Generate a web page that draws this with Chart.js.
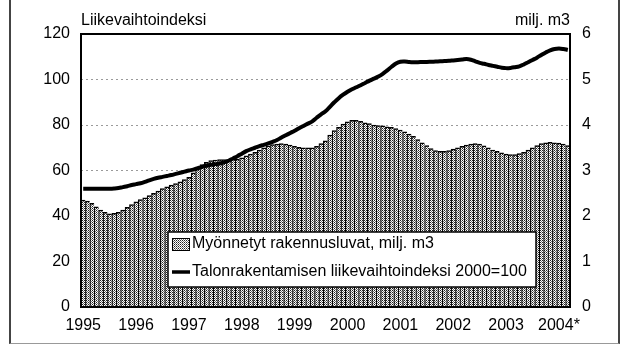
<!DOCTYPE html>
<html>
<head>
<meta charset="utf-8">
<script src="https://cdn.jsdelivr.net/npm/chart.js@4/dist/chart.umd.min.js"></script>
<style>
  html, body { margin: 0; padding: 0; background: #fff; overflow: hidden; }
  #wrap { position: relative; width: 626px; height: 345px; }
  #frame {
    position: absolute; left: 9px; top: -4px; width: 611px; height: 348px;
    box-sizing: border-box;
    border-left: 2px solid #444; border-right: 2px solid #444;
    border-bottom: 1px solid #999; border-top: 1px solid #444;
    pointer-events: none;
  }
  canvas { position: absolute; left: 0; top: 0; }
</style>
</head>
<body>
<div id="wrap">
  <canvas id="c" width="626" height="345"></canvas>
  <div id="frame"></div>
</div>
<script>
// Year labels shown under the January of each year
const years = ['1995', '1996', '1997', '1998', '1999', '2000', '2001', '2002', '2003', '2004*'];

// Granted building permits, million m3 (monthly, Jan 1995 onwards)
const permits = [
  2.35, 2.33, 2.28, 2.20, 2.13, 2.08, 2.05, 2.06, 2.08, 2.13, 2.19, 2.25,
  2.31, 2.36, 2.40, 2.45, 2.50, 2.55, 2.60, 2.64, 2.68, 2.71, 2.75, 2.80,
  2.85, 2.95, 3.05, 3.13, 3.18, 3.22, 3.23, 3.24, 3.24, 3.24, 3.25, 3.25,
  3.28, 3.32, 3.36, 3.40, 3.45, 3.50, 3.54, 3.57, 3.58, 3.59, 3.58, 3.56,
  3.53, 3.51, 3.50, 3.50, 3.50, 3.53, 3.59, 3.65, 3.78, 3.88, 3.95, 4.02,
  4.07, 4.10, 4.10, 4.08, 4.05, 4.03, 4.00, 3.99, 3.98, 3.96, 3.95, 3.92,
  3.89, 3.85, 3.80, 3.75, 3.68, 3.61, 3.55, 3.48, 3.44, 3.42, 3.42, 3.44,
  3.47, 3.50, 3.53, 3.56, 3.58, 3.59, 3.58, 3.54, 3.50, 3.45, 3.42, 3.39,
  3.36, 3.35, 3.35, 3.37, 3.40, 3.45, 3.50, 3.55, 3.59, 3.61, 3.62, 3.61,
  3.60, 3.58, 3.55
];

// Turnover index of house building, 2000 = 100 (monthly)
const turnover = [
  52.0, 52.0, 52.0, 52.0, 52.0, 52.0, 52.0, 52.1, 52.3, 52.7, 53.1, 53.6,
  54.0, 54.4, 55.0, 55.7, 56.3, 56.8, 57.2, 57.6, 58.0, 58.5, 59.0, 59.5,
  60.0, 60.4, 61.0, 61.6, 62.1, 62.5, 62.8, 63.1, 63.6, 64.3, 65.3, 66.3,
  67.4, 68.5, 69.3, 70.0, 70.7, 71.3, 71.9, 72.6, 73.4, 74.5, 75.5, 76.5,
  77.5, 78.6, 79.6, 80.6, 81.6, 83.2, 84.7, 86.0, 88.0, 90.0, 91.8, 93.3,
  94.6, 95.7, 96.6, 97.5, 98.5, 99.5, 100.4, 101.3, 102.5, 104.0, 105.6, 107.0,
  107.8, 107.9, 107.7, 107.6, 107.6, 107.7, 107.7, 107.8, 107.9, 108.0, 108.1, 108.2,
  108.4, 108.6, 108.8, 109.0, 108.7, 108.0, 107.3, 106.9, 106.4, 106.0, 105.6, 105.2,
  105.0, 105.1, 105.4, 105.8, 106.6, 107.6, 108.6, 109.6, 110.8, 111.9, 112.8, 113.4,
  113.6, 113.4, 113.0
];

const legendLabels = ['Myönnetyt rakennusluvat, milj. m3', 'Talonrakentamisen liikevaihtoindeksi 2000=100'];
const leftTitle = 'Liikevaihtoindeksi';
const rightTitle = 'milj. m3';

const months = permits.map((_, i) => years[Math.floor(i / 12)].replace('*', '') + '-' + String(i % 12 + 1).padStart(2, '0'));

const FONT = "'Liberation Sans', Arial, Helvetica, sans-serif";
const canvas = document.getElementById('c');
const ctx0 = canvas.getContext('2d');

// Stippled fill used for the permit columns
function stipple(ctx) {
  const p = document.createElement('canvas');
  p.width = 2; p.height = 2;
  const g = p.getContext('2d');
  g.fillStyle = '#fff'; g.fillRect(0, 0, 2, 2);
  g.fillStyle = '#222'; g.fillRect(0, 0, 1, 1);
  g.fillStyle = '#777'; g.fillRect(1, 1, 1, 1);
  return ctx.createPattern(p, 'repeat');
}
const fill = stipple(ctx0);

// Frame around the plot, the two axis headings and the legend box inside the plot
const decorations = {
  id: 'decorations',
  afterDatasetsDraw(chart) {
    const { ctx, chartArea: a } = chart;
    ctx.save();
    ctx.strokeStyle = '#000';
    ctx.lineWidth = 2;
    ctx.strokeRect(a.left, a.top, a.right - a.left, a.bottom - a.top);

    ctx.fillStyle = '#000';
    ctx.font = '16px ' + FONT;
    ctx.textBaseline = 'alphabetic';
    ctx.textAlign = 'left';
    ctx.fillText(leftTitle, a.left, a.top - 9);
    ctx.textAlign = 'right';
    ctx.fillText(rightTitle, a.right, a.top - 9);

    // legend
    const bx = a.left + 87, by = a.top + 198, bw = 368, bh = 55;
    ctx.fillStyle = '#fff';
    ctx.fillRect(bx, by, bw, bh);
    ctx.lineWidth = 1.5;
    ctx.strokeStyle = '#000';
    ctx.strokeRect(bx, by, bw, bh);

    const sx = bx + 4, sw = 18;
    const r1 = by + 12, r2 = by + 40;
    ctx.fillStyle = fill;
    ctx.fillRect(sx, r1 - 6, sw, 13);
    ctx.lineWidth = 1;
    ctx.strokeRect(sx + 0.5, r1 - 5.5, sw - 1, 12);

    ctx.beginPath();
    ctx.lineWidth = 3.5;
    ctx.moveTo(sx, r2);
    ctx.lineTo(sx + sw, r2);
    ctx.stroke();

    ctx.fillStyle = '#000';
    ctx.textAlign = 'left';
    ctx.textBaseline = 'middle';
    ctx.fillText(legendLabels[0], sx + sw + 2, r1);
    ctx.fillText(legendLabels[1], sx + sw + 2, r2);
    ctx.restore();
  }
};

const tickFont = { family: FONT, size: 16 };

new Chart(canvas, {
  data: {
    labels: months,
    datasets: [
      {
        type: 'line',
        label: legendLabels[1],
        data: turnover,
        yAxisID: 'yL',
        borderColor: '#000',
        borderWidth: 4,
        pointRadius: 0,
        tension: 0.4,
        order: 1
      },
      {
        type: 'bar',
        label: legendLabels[0],
        data: permits,
        yAxisID: 'yR',
        backgroundColor: fill,
        borderColor: '#000',
        borderWidth: { top: 1.5, left: 1.2, right: 0, bottom: 0 },
        borderSkipped: false,
        categoryPercentage: 1,
        barPercentage: 1,
        order: 2
      }
    ]
  },
  options: {
    responsive: false,
    animation: false,
    layout: { padding: { top: 34, left: 0, right: 0, bottom: 0 } },
    plugins: { legend: { display: false }, tooltip: { enabled: false }, title: { display: false } },
    scales: {
      x: {
        grid: { display: false, drawTicks: false },
        border: { display: false },
        ticks: {
          autoSkip: false, maxRotation: 0, minRotation: 0, padding: 9,
          font: tickFont, color: '#000',
          callback: (v, i) => (i % 12 === 0 ? years[i / 12] : '')
        },
        afterFit(s) { s.height = 38; }
      },
      yL: {
        position: 'left',
        min: 0, max: 120,
        ticks: { stepSize: 20, padding: 11, font: tickFont, color: '#000' },
        grid: { color: '#9a9a9a', lineWidth: 1, drawTicks: false },
        border: { display: false, dash: [2, 3] },
        afterFit(s) { s.width = 81; }
      },
      yR: {
        position: 'right',
        min: 0, max: 6,
        ticks: { stepSize: 1, padding: 12, font: tickFont, color: '#000' },
        grid: { display: false, drawTicks: false },
        border: { display: false },
        afterFit(s) { s.width = 56; }
      }
    }
  },
  plugins: [decorations]
});
</script>
</body>
</html>
